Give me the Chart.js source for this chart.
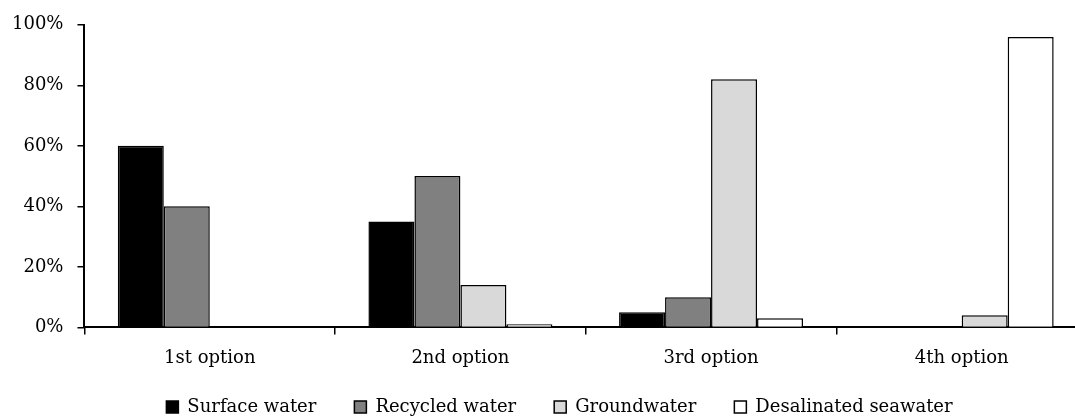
<!DOCTYPE html>
<html>
<head>
<meta charset="utf-8">
<script src="https://cdn.jsdelivr.net/npm/chart.js@4"></script>
<style>
  html, body { margin: 0; padding: 0; background: #fff; overflow: hidden; }
  .chart-wrap { position: absolute; left: 0; top: 0; width: 1090px; height: 420px; }
</style>
</head>
<body>
<div class="chart-wrap"><canvas id="chart"></canvas></div>
<script>
// categories and series (percent)
const categories = ["1st option", "2nd option", "3rd option", "4th option"];
const surfaceWater = [60, 35, 5, 0];
const recycledWater = [40, 50, 10, 0];
const groundwater = [0, 14, 82, 4];
const desalinatedSeawater = [0, 1, 3, 96];
const yTicks = [0, 20, 40, 60, 80, 100];

const FONT = { family: "'DejaVu Serif', serif", size: 18 };

// move the legend a bit: the original chart was wider than the picture
const legendShift = {
  id: "legendShift",
  afterLayout(chart) {
    const lg = chart.legend;
    if (!lg) return;
    lg.left += 17;
    lg.right += 17;
    lg.top -= 12;
    lg.bottom -= 12;
  },
};

const makeSet = (label, data, fill) => ({
  label,
  data,
  backgroundColor: fill,
  borderColor: "#000",
  borderWidth: 1.5,
  barPercentage: 1,
  categoryPercentage: 0.734,
});

new Chart(document.getElementById("chart"), {
  type: "bar",
  data: {
    labels: categories,
    datasets: [
      makeSet("Surface water", surfaceWater, "#000000"),
      makeSet("Recycled water", recycledWater, "#808080"),
      makeSet("Groundwater", groundwater, "#d9d9d9"),
      makeSet("Desalinated seawater", desalinatedSeawater, "#ffffff"),
    ],
  },
  options: {
    responsive: true,
    maintainAspectRatio: false,
    animation: false,
    layout: { padding: { left: -2, right: 3, top: 24, bottom: -18 } },
    plugins: {
      tooltip: { enabled: false },
      legend: {
        position: "bottom",
        labels: {
          color: "#000",
          font: FONT,
          boxWidth: 12,
          boxHeight: 12,
          padding: 38,
        },
      },
    },
    scales: {
      x: {
        afterFit(scale) {
          scale.height -= 10;
        },
        grid: {
          display: true,
          drawOnChartArea: false,
          drawTicks: true,
          tickLength: 7,
          color: "#000",
          lineWidth: 1.5,
          offset: true,
        },
        border: { display: true, color: "#000", width: 2 },
        ticks: { color: "#000", font: FONT, padding: 13 },
      },
      y: {
        min: 0,
        max: 100,
        afterBuildTicks(axis) {
          axis.ticks = yTicks.map((v) => ({ value: v }));
        },
        grid: {
          display: true,
          drawOnChartArea: false,
          drawTicks: true,
          tickLength: 7,
          color: "#000",
          lineWidth: 1.5,
        },
        border: { display: true, color: "#000", width: 2 },
        ticks: {
          color: "#000",
          font: FONT,
          padding: 14,
          callback: (v) => v + "%",
        },
      },
    },
  },
  plugins: [legendShift],
});
</script>
</body>
</html>
